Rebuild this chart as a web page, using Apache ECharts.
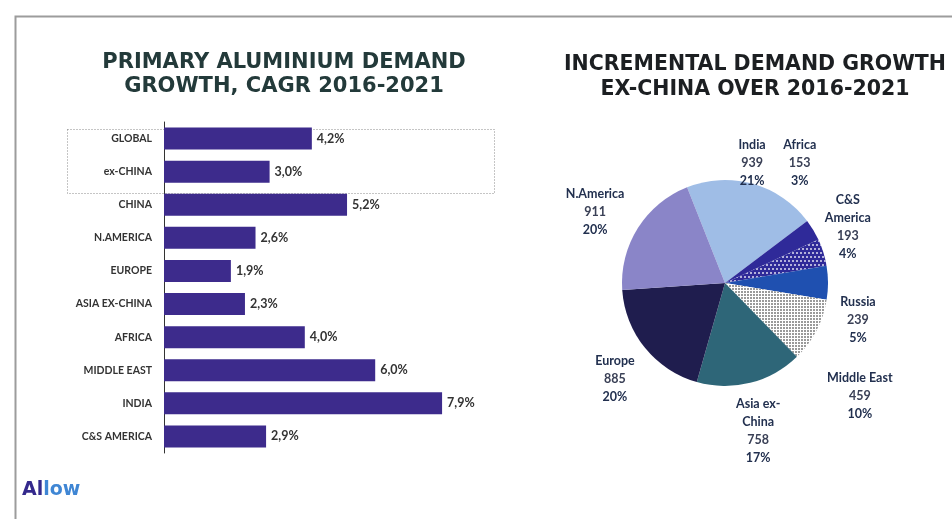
<!DOCTYPE html>
<html>
<head>
<meta charset="utf-8">
<script src="https://cdn.jsdelivr.net/npm/echarts@6/dist/echarts.min.js"></script>
<style>
  html, body { margin: 0; padding: 0; background: #ffffff; }
  #chart { width: 952px; height: 519px; }
</style>
</head>
<body>
<div id="chart"></div>
<script>
// Left panel: CAGR by region, 2016-2021 (%)
const regions = ['GLOBAL', 'ex-CHINA', 'CHINA', 'N.AMERICA', 'EUROPE', 'ASIA EX-CHINA',
                 'AFRICA', 'MIDDLE EAST', 'INDIA', 'C&S AMERICA'];
const cagr = [4.2, 3.0, 5.2, 2.6, 1.9, 2.3, 4.0, 6.0, 7.9, 2.9];

// Right panel: incremental demand ex-China, kt
const pieNames = ['India', 'Africa', 'C&S\nAmerica', 'Russia', 'Middle East',
                  'Asia ex-\nChina', 'Europe', 'N.America'];
const pieValues = [939, 153, 193, 239, 459, 758, 885, 911];

// Slice fills, in the same order as the pie names
const sliceColors = ['#9fbde6', '#2f2a99', '#2f2a99', '#1f50b0', '#ffffff',
                     '#2e6678', '#1f1d4e', '#8a85c8'];

// Where each pie label block sits: [degrees clockwise from 12 o'clock, distance from centre]
const labelSpots = [[12.7, 123], [32, 141], [65.5, 135], [105.5, 138], [130, 176],
                    [167.4, 152], [228.9, 146], [298.6, 148]];

const PIE_CX = 725, PIE_CY = 283, PIE_R = 103;

const whiteDots = {
  symbol: 'circle', symbolSize: 1, color: 'rgba(255,255,255,0.85)',
  dashArrayX: [[2, 2], [0, 2, 2, 0]], dashArrayY: [2, 1.5], rotation: 0
};
const greyDots = {
  symbol: 'rect', symbolSize: 1, color: '#9a9a9a',
  dashArrayX: [2, 1], dashArrayY: [2, 1], rotation: 0
};

const pieData = pieNames.map((n, i) => {
  const item = { name: n, value: pieValues[i], itemStyle: { color: sliceColors[i] } };
  if (n === 'C&S\nAmerica') item.itemStyle.decal = whiteDots;
  if (n === 'Middle East') item.itemStyle.decal = greyDots;
  return item;
});

const chart = echarts.init(document.getElementById('chart'), null, { renderer: 'canvas' });

chart.setOption({
  backgroundColor: '#ffffff',
  animation: false,
  title: [
    {
      text: 'PRIMARY ALUMINIUM DEMAND\nGROWTH, CAGR 2016-2021',
      left: 279, top: 46, textAlign: 'center',
      textStyle: { fontFamily: 'DejaVu Sans', fontWeight: 'bold', fontSize: 21,
                   lineHeight: 24, color: '#233a3a' }
    },
    {
      text: 'INCREMENTAL DEMAND GROWTH\nEX-CHINA OVER 2016-2021',
      left: 750, top: 47, textAlign: 'center',
      textStyle: { fontFamily: 'DejaVu Sans', fontWeight: 'bold', fontSize: 20.5,
                   lineHeight: 25, color: '#1c1f22' }
    }
  ],
  graphic: [
    { // outer frame
      type: 'rect', left: 13, top: 14, silent: true,
      shape: { width: 980, height: 540 },
      style: { fill: 'none', stroke: '#9c9c9c', lineWidth: 2 }
    },
    { // dotted box around the global figures
      type: 'rect', left: 65, top: 127, silent: true,
      shape: { width: 427, height: 64 },
      style: { fill: 'none', stroke: '#8a8a8a', lineWidth: 1, lineDash: [1, 2] }
    },
    { // logo
      type: 'text', left: 22, top: 481, silent: true,
      style: {
        text: '{a|Al}{b|low}',
        rich: {
          a: { fontFamily: 'DejaVu Sans', fontWeight: 'bold', fontSize: 19, fill: '#34298c' },
          b: { fontFamily: 'DejaVu Sans', fontWeight: 'bold', fontSize: 19, fill: '#3f86d4' }
        }
      }
    }
  ],
  grid: { left: 164, top: 122, width: 352, height: 331, containLabel: false },
  xAxis: { type: 'value', min: 0, max: 10, show: false },
  yAxis: {
    type: 'category', data: regions, inverse: true,
    axisLine: { show: true, lineStyle: { color: '#333333', width: 1 } },
    axisTick: { show: false },
    axisLabel: { margin: 12, fontFamily: 'Lato', fontWeight: 'bold', fontSize: 10.5, color: '#333333' }
  },
  series: [
    {
      type: 'bar', data: cagr, barWidth: 22,
      itemStyle: { color: '#3d2b8c' },
      label: {
        show: true, position: 'right', distance: 5,
        fontFamily: 'Lato', fontWeight: 'bold', fontSize: 12.5, color: '#333333',
        formatter: p => p.value.toFixed(1).replace('.', ',') + '%'
      }
    },
    {
      type: 'pie', center: [PIE_CX, PIE_CY], radius: PIE_R,
      startAngle: 111.6, clockwise: true, avoidLabelOverlap: false,
      percentPrecision: 0,
      data: pieData,
      label: {
        show: true, position: 'outside',
        formatter: '{n|{b}}\n{v|{c}}\n{p|{d}%}',
        fontFamily: 'Lato', fontWeight: 'bold', fontSize: 12, color: '#243050',
        lineHeight: 18, align: 'center',
        rich: {
          n: { fontFamily: 'Lato', fontWeight: 'bold', fontSize: 12.5, lineHeight: 18, color: '#22304f', align: 'center' },
          v: { fontFamily: 'Lato', fontWeight: 'bold', fontSize: 12.5, lineHeight: 18, color: '#3a4056', align: 'center' },
          p: { fontFamily: 'Lato', fontWeight: 'bold', fontSize: 12.5, lineHeight: 18, color: '#22304f', align: 'center' }
        }
      },
      labelLine: { show: false },
      labelLayout: params => {
        const s = labelSpots[params.dataIndex];
        const a = s[0] * Math.PI / 180;
        return {
          x: PIE_CX + s[1] * Math.sin(a),
          y: PIE_CY - s[1] * Math.cos(a),
          align: 'center', verticalAlign: 'middle'
        };
      },
      emphasis: { disabled: true }
    }
  ]
});
</script>
</body>
</html>
